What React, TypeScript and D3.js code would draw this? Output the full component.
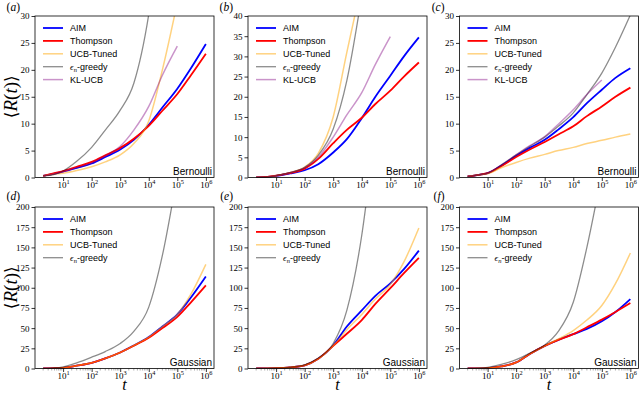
import React, { useRef, useEffect } from "react";
import * as d3 from "d3";

const W = 640;
const H = 394;

// time grid shared by every curve
const tValues = [2, 5, 10, 30, 100, 300, 1000, 3000, 10000, 30000, 100000, 300000, 1000000];

// (a) Bernoulli
const aimA = [0.3, 0.7, 1.1, 1.8, 2.6, 3.8, 5.2, 7.0, 9.8, 13.0, 16.5, 20.3, 24.8];
const thompsonA = [0.3, 0.8, 1.2, 2.0, 2.9, 4.1, 5.5, 7.2, 9.6, 12.4, 15.5, 19.0, 23.0];
const ucbA = [0.3, 0.6, 0.8, 1.3, 2.0, 2.9, 4.2, 6.3, 10.5, 20.0, 32.5, 45.0, null];
const greedyA = [0.3, 0.6, 1.2, 3.0, 5.6, 8.8, 12.5, 17.5, 30.3, 50.0, null, null, null];
const klA = [0.3, 0.7, 1.1, 1.8, 2.7, 4.0, 5.8, 8.8, 13.2, 19.0, 24.4, null, null];

// (b) Bernoulli
const aimB = [0.05, 0.15, 0.4, 1.0, 1.8, 3.3, 6.2, 9.5, 14.7, 20.0, 25.2, 30.0, 34.7];
const thompsonB = [0.05, 0.15, 0.45, 1.1, 2.2, 4.6, 8.5, 11.8, 14.8, 18.2, 21.5, 25.0, 28.5];
const ucbB = [0.05, 0.15, 0.45, 1.2, 2.6, 6.0, 15.0, 31.0, 48.0, null, null, null, null];
const greedyB = [0.05, 0.15, 0.45, 1.2, 2.5, 5.5, 12.0, 24.0, 45.0, null, null, null, null];
const klB = [0.05, 0.15, 0.45, 1.2, 2.4, 5.0, 10.0, 15.5, 21.0, 28.0, 34.9, null, null];

// (c) Bernoulli
const aimC = [0.2, 0.5, 0.8, 2.2, 4.0, 5.5, 7.0, 8.9, 11.2, 13.8, 16.3, 18.5, 20.3];
const thompsonC = [0.2, 0.5, 0.8, 2.1, 3.8, 5.2, 6.6, 8.0, 9.5, 11.4, 13.2, 15.0, 16.7];
const ucbC = [0.2, 0.5, 0.7, 1.8, 2.8, 3.6, 4.3, 5.0, 5.6, 6.3, 6.9, 7.5, 8.1];
const greedyC = [0.2, 0.5, 0.8, 2.3, 4.2, 5.8, 7.5, 9.5, 12.0, 15.4, 19.4, 24.2, 30.2];
const klC = [0.2, 0.5, 0.8, 2.3, 4.2, 5.9, 7.6, 9.9, 12.6, 15.4, 18.1, null, null];

// (d) Gaussian
const aimD = [0, 0.3, 0.8, 3.5, 7.0, 12.5, 19.8, 28.5, 39.0, 52.0, 67.0, 88.0, 114];
const thompsonD = [0, 0.3, 0.8, 3.5, 7.0, 12.5, 19.8, 28.2, 38.0, 50.0, 64.0, 82.0, 103];
const ucbD = [0, 0.3, 0.8, 3.5, 7.0, 12.5, 19.8, 28.5, 39.0, 52.0, 67.0, 92.0, 129];
const greedyD = [0, 0.6, 2.0, 7.0, 14.0, 21.0, 31.0, 46.0, 76.0, 140, 240, null, null];

// (e) Gaussian
const aimE = [0, 0.2, 0.5, 1.5, 4.0, 12.0, 28.5, 52.0, 72.0, 90.0, 105.5, 123.0, 146];
const thompsonE = [0, 0.2, 0.5, 1.5, 4.0, 12.0, 28.0, 43.0, 60.0, 80.0, 99.5, 118.0, 137];
const ucbE = [0, 0.2, 0.5, 1.5, 4.0, 12.0, 28.3, 48.0, 67.0, 86.0, 104.0, 132.0, 174];
const greedyE = [0, 0.2, 0.5, 1.5, 4.5, 13.0, 31.0, 72.0, 165, 300, null, null, null];

// (f) Gaussian
const aimF = [0, 0.2, 0.5, 2.5, 7.5, 18.0, 28.0, 35.5, 42.5, 49.0, 58.5, 70.0, 86];
const thompsonF = [0, 0.2, 0.5, 2.5, 7.5, 18.0, 28.0, 35.5, 42.5, 51.0, 60.5, 70.0, 81];
const ucbF = [0, 0.2, 0.5, 2.5, 7.5, 18.0, 28.0, 36.5, 47.0, 60.0, 78.0, 105.0, 143];
const greedyF = [0, 0.5, 1.5, 5.0, 11.0, 19.0, 29.0, 46.0, 82.0, 150, 242, null, null];

const seriesNames = ["AIM", "Thompson", "UCB-Tuned", "greedy", "KL-UCB"];
const xTickExps = [1, 2, 3, 4, 5, 6];

const panels = [
  { label: "a", row: 0, col: 0, yMax: 30, yStep: 5, dist: "Bernoulli", data: [aimA, thompsonA, ucbA, greedyA, klA] },
  { label: "b", row: 0, col: 1, yMax: 40, yStep: 5, dist: "Bernoulli", data: [aimB, thompsonB, ucbB, greedyB, klB] },
  { label: "c", row: 0, col: 2, yMax: 30, yStep: 5, dist: "Bernoulli", data: [aimC, thompsonC, ucbC, greedyC, klC] },
  { label: "d", row: 1, col: 0, yMax: 200, yStep: 25, dist: "Gaussian", data: [aimD, thompsonD, ucbD, greedyD] },
  { label: "e", row: 1, col: 1, yMax: 200, yStep: 25, dist: "Gaussian", data: [aimE, thompsonE, ucbE, greedyE] },
  { label: "f", row: 1, col: 2, yMax: 200, yStep: 25, dist: "Gaussian", data: [aimF, thompsonF, ucbF, greedyF] },
];

const styles = [
  { color: "#0000ff", width: 1.8, opacity: 1 },
  { color: "#ff0000", width: 1.8, opacity: 1 },
  { color: "#ffa500", width: 1.5, opacity: 0.5 },
  { color: "#000000", width: 1.3, opacity: 0.45 },
  { color: "#800080", width: 1.5, opacity: 0.42 },
];

const colLefts = [35, 248, 459.5];
const rowTops = [16, 207];
const panelW = 179;
const panelH = 161.5;

const serif = "'Liberation Serif', 'DejaVu Serif', serif";
const sans = "'Liberation Sans', Arial, sans-serif";

const App = () => {
  const ref = useRef<SVGSVGElement>(null);

  useEffect(() => {
    const svg = d3.select(ref.current);
    svg.selectAll("*").remove();

    const logMin = Math.log10(tValues[0]);
    const logMax = Math.log10(tValues[tValues.length - 1]);
    const pad = (logMax - logMin) * 0.05;

    panels.forEach((p, pi) => {
      const left = colLefts[p.col];
      const top = rowTops[p.row];
      const right = left + panelW;
      const bottom = top + panelH;

      const x = d3.scaleLog().domain([10 ** (logMin - pad), 10 ** (logMax + pad)]).range([left, right]);
      const y = d3.scaleLinear().domain([0, p.yMax]).range([bottom, top]);

      const g = svg.append("g");

      g.append("clipPath").attr("id", "clip" + pi)
        .append("rect").attr("x", left).attr("y", top).attr("width", panelW).attr("height", panelH);

      const line = d3.line<[number, number | null]>()
        .defined(d => d[1] != null)
        .curve(d3.curveMonotoneX)
        .x(d => x(d[0]))
        .y(d => y(d[1] as number));

      p.data.forEach((vals, si) => {
        const st = styles[si];
        const pts = tValues.map((t, i) => [t, vals[i]] as [number, number | null]);
        g.append("path")
          .attr("clip-path", `url(#clip${pi})`)
          .attr("fill", "none")
          .attr("stroke", st.color)
          .attr("stroke-opacity", st.opacity)
          .attr("stroke-width", st.width)
          .attr("stroke-linejoin", "round")
          .attr("d", line(pts));
      });

      // y axis
      const yAxis = d3.axisLeft(y)
        .tickValues(d3.range(0, p.yMax + 0.001, p.yStep))
        .tickSize(3.5)
        .tickPadding(2);
      const ya = g.append("g").attr("transform", `translate(${left},0)`).call(yAxis);
      ya.select(".domain").remove();
      ya.selectAll("line").attr("stroke", "#000").attr("stroke-width", 0.8);
      ya.selectAll("text").attr("font-family", serif).attr("font-size", 9).attr("fill", "#000");

      // x axis, minor ticks on the gaussian row
      if (p.row === 1) {
        const minors = x.ticks().filter(v => Math.abs(Math.log10(v) - Math.round(Math.log10(v))) > 1e-6);
        g.selectAll(".minor").data(minors).enter().append("line")
          .attr("x1", d => x(d)).attr("x2", d => x(d))
          .attr("y1", bottom).attr("y2", bottom + 2)
          .attr("stroke", "#777").attr("stroke-width", 0.6);
      }
      const xAxis = d3.axisBottom(x)
        .tickValues(xTickExps.map(e => Math.pow(10, e)))
        .tickSize(3.5)
        .tickFormat(() => "");
      const xa = g.append("g").attr("transform", `translate(0,${bottom})`).call(xAxis);
      xa.select(".domain").remove();
      xa.selectAll("line").attr("stroke", "#000").attr("stroke-width", 0.8);
      xa.selectAll(".tick text").each(function (_d, i) {
        const txt = d3.select(this);
        txt.attr("y", 10.5).attr("dy", null)
          .attr("font-family", serif).attr("font-size", 9).attr("fill", "#000");
        txt.append("tspan").text("10");
        txt.append("tspan").attr("font-size", 6.3).attr("dy", -3.8).text(String(xTickExps[i]));
      });

      // frame
      g.append("rect")
        .attr("x", left).attr("y", top).attr("width", panelW).attr("height", panelH)
        .attr("fill", "none").attr("stroke", "#000").attr("stroke-width", 0.8);

      // legend
      p.data.forEach((_vals, si) => {
        const st = styles[si];
        const ly = top + 12 + si * 12.9;
        g.append("line")
          .attr("x1", left + 8).attr("x2", left + 28).attr("y1", ly).attr("y2", ly)
          .attr("stroke", st.color).attr("stroke-opacity", st.opacity).attr("stroke-width", st.width);
        const lt = g.append("text")
          .attr("x", left + 35).attr("y", ly + 3.2)
          .attr("font-family", sans).attr("font-size", 9).attr("fill", "#000");
        if (seriesNames[si] === "greedy") {
          lt.append("tspan").attr("font-family", serif).attr("font-style", "italic").text("\u03f5");
          lt.append("tspan").attr("font-family", serif).attr("font-style", "italic")
            .attr("font-size", 6.5).attr("dy", 2).text("n");
          lt.append("tspan").attr("dy", -2).text("-greedy");
        } else {
          lt.text(seriesNames[si]);
        }
      });

      // distribution tag
      g.append("text")
        .attr("x", right - 2).attr("y", bottom - 3)
        .attr("text-anchor", "end")
        .attr("font-family", sans).attr("font-size", 10).attr("fill", "#000")
        .text(p.dist);

      // panel letter
      const pl = g.append("text")
        .attr("x", left - 15).attr("y", p.row === 0 ? top - 5.5 : top - 7.5)
        .attr("text-anchor", "end")
        .attr("font-family", serif).attr("font-size", 11.5).attr("fill", "#000");
      pl.append("tspan").text("(");
      pl.append("tspan").attr("font-style", "italic").text(p.label);
      pl.append("tspan").text(")");

      // axis titles
      if (p.col === 0) {
        const yl = g.append("text")
          .attr("transform", `translate(17,${(top + bottom) / 2}) rotate(-90)`)
          .attr("text-anchor", "middle")
          .attr("font-family", serif).attr("font-size", 19).attr("fill", "#000");
        yl.append("tspan").attr("font-family", "'DejaVu Sans', serif").attr("font-size", 17).text("\u27e8");
        yl.append("tspan").attr("font-style", "italic").text("R");
        yl.append("tspan").text("(");
        yl.append("tspan").attr("font-style", "italic").text("t");
        yl.append("tspan").text(")");
        yl.append("tspan").attr("font-family", "'DejaVu Sans', serif").attr("font-size", 17).text("\u27e9");
      }
      if (p.row === 1) {
        g.append("text")
          .attr("x", (left + right) / 2).attr("y", 390)
          .attr("text-anchor", "middle")
          .attr("font-family", serif).attr("font-style", "italic").attr("font-size", 16).attr("fill", "#000")
          .text("t");
      }
    });
  }, []);

  return (
    <svg ref={ref} width={W} height={H}
      style={{ position: "absolute", left: 0, top: 0, background: "#fff" }} />
  );
};

export default App;
